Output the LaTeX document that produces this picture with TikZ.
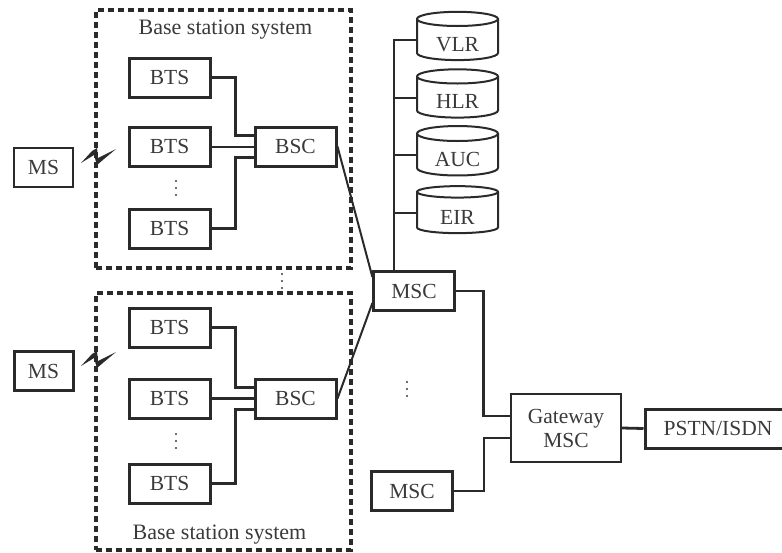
\documentclass[tikz,border=0pt]{standalone}
\usepackage{fontspec}
\setmainfont{Liberation Serif}
\usepackage{xcolor}
\usetikzlibrary{shapes.geometric,calc}
\definecolor{inkgray}{HTML}{2A2A2A}
\definecolor{textgray}{HTML}{3A3A3A}
\tikzset{
  unitbox/.style={draw=inkgray, line width=3pt, text=textgray, inner sep=0pt, minimum width=81pt, minimum height=39pt, font=\fontsize{21.5}{24}\selectfont},
  thinbox/.style={unitbox, line width=2.2pt},
  sysbox/.style={draw=inkgray, line width=3.2pt, dash pattern=on 6pt off 4pt, minimum width=255pt, inner sep=0pt},
  store/.style={cylinder, shape border rotate=90, aspect=0.33, draw=inkgray, line width=2pt, text=textgray, inner sep=0pt, minimum width=81pt, minimum height=47pt, text height=24pt, text depth=2pt, font=\fontsize{21.5}{24}\selectfont},
  wire/.style={draw=inkgray, line width=2.8pt},
  thinwire/.style={draw=inkgray, line width=2pt},
  caption/.style={text=textgray, inner sep=0pt, font=\fontsize{22}{24}\selectfont},
  threedots/.pic={\fill[textgray] (0,-7) circle (1.2) (0,0) circle (1.2) (0,7) circle (1.2);}
}
\begin{document}
\begin{tikzpicture}[x=1pt, y=-1pt]
\useasboundingbox (0,0) rectangle (782,552);

% Upper base station system
\node[sysbox, minimum height=258pt] (sysa) at (223.5,139) {};
\node[caption] (capa) at (225.5,30) {Base station system};
\node[unitbox] (btsa) at (169.5,77.5) {BTS};
\node[unitbox] (btsb) at (169.5,146.5) {BTS};
\node[unitbox] (btsc) at (169.5,228.5) {BTS};
\node[unitbox] (bsca) at (295.5,146.5) {BSC};
\pic at (176,188) {threedots};

\draw[wire] (btsa.east) -- ++(24,0) |- ([yshift=11pt]bsca.west);
\draw[thinwire] (btsb.east) -- (bsca.west);
\draw[wire] (btsc.east) -- ++(24,0) |- ([yshift=-11pt]bsca.west);

% Lower base station system
\node[sysbox, minimum height=257pt] (sysb) at (223.5,421.5) {};
\node[caption] (capb) at (219.5,535) {Base station system};
\node[unitbox] (btsd) at (169.5,327.5) {BTS};
\node[unitbox] (btse) at (169.5,398.5) {BTS};
\node[unitbox] (btsf) at (169.5,483.5) {BTS};
\node[unitbox] (bscb) at (295.5,398.5) {BSC};
\pic at (176,441) {threedots};
\pic at (282,281) {threedots};

\draw[wire] (btsd.east) -- ++(24,0) |- ([yshift=11pt]bscb.west);
\draw[wire] (btse.east) -- (bscb.west);
\draw[wire] (btsf.east) -- ++(24,0) |- ([yshift=-11pt]bscb.west);

% Mobile stations
\node[thinbox, minimum width=59pt] (msa) at (43.5,167.5) {MS};
\node[unitbox, minimum width=59pt] (msb) at (43.5,371) {MS};

% Radio links
\fill[inkgray] (81,163) -- (92,151) -- (97,148) -- (98,158) -- (116,149) -- (104,159) -- (97,165) -- (94,155) -- cycle;
\fill[inkgray] (81,366) -- (92,354) -- (97,351) -- (98,361) -- (116,352) -- (104,362) -- (97,368) -- (94,358) -- cycle;

% Databases
\node[store] (vlr) at (457.5,40) {VLR};
\node[store] (hlr) at (457.5,97.5) {HLR};
\node[store] (auc) at (457.5,155) {AUC};
\node[store] (eir) at (457.5,213) {EIR};

% Switching centres
\node[thinbox] (msca) at (414,291) {MSC};
\node[unitbox] (mscb) at (412,491) {MSC};
\node[thinbox, minimum width=110pt, minimum height=68pt, align=center] (gate) at (566,428) {Gateway\\MSC};
\node[unitbox, minimum width=146pt] (pstn) at (718,428.5) {PSTN/ISDN};
\pic at (407,389) {threedots};

% Database bus
\coordinate (busend) at ($(msca.north west)+(22,0)$);
\draw[thinwire] (busend) |- (vlr.west);
\draw[thinwire] (busend |- hlr.west) -- (hlr.west);
\draw[thinwire] (busend |- auc.west) -- (auc.west);
\draw[thinwire] (busend |- eir.west) -- (eir.west);

% Trunks
\draw[thinwire] (bsca.east) -- ([yshift=14pt]msca.west);
\draw[thinwire] (bscb.east) -- ([yshift=-12pt]msca.west);
\draw[wire] (msca.east) -- ++(28,0) |- ([yshift=12pt]gate.west);
\draw[wire] (mscb.east) -- ++(30,0) |- ([yshift=-10pt]gate.west);
\draw[wire] (gate.east) -- (pstn.west);
\end{tikzpicture}
\end{document}
